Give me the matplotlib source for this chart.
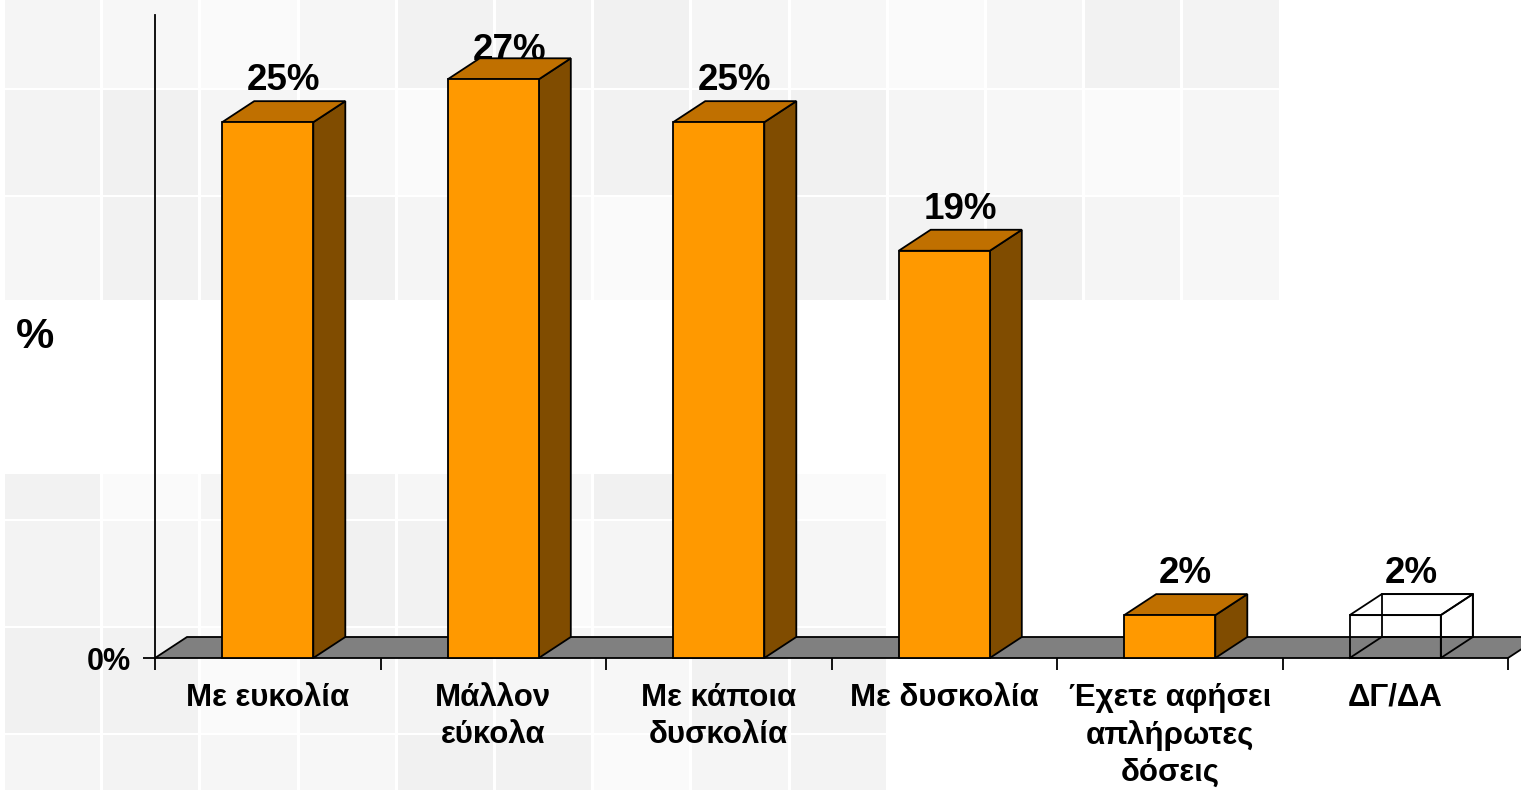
""" Greek survey chart: 3D-looking orange columns. """

import matplotlib
matplotlib.use("Agg")
import matplotlib.pyplot as plt
from matplotlib.patches import Polygon, Rectangle


categories = ["Με ευκολία", "Μάλλον\nεύκολα", "Με κάποια\nδυσκολία",
              "Με δυσκολία", "Έχετε αφήσει\nαπλήρωτες\nδόσεις", "ΔΓ/ΔΑ"]
values = [25, 27, 25, 19, 2, 2]
value_labels = ["25%", "27%", "25%", "19%", "2%", "2%"]
hollow = {"ΔΓ/ΔΑ"}

W, H = 1521, 790
FONT = "Liberation Sans"
FRONT = "#FF9900"
TOP = "#C07000"
SIDE = "#804C00"
FLOOR = "#808080"

fig = plt.figure(figsize=(W / 100, H / 100), dpi=100)
fig.patch.set_facecolor("white")

# faint tiled backdrop
bg = fig.add_axes([0, 0, 1, 1], zorder=0)
bg.set_xlim(0, W)
bg.set_ylim(H, 0)
bg.axis("off")
shades = ["#f5f5f5", "#f2f2f2", "#f7f7f7", "#f3f3f3", "#fafafa", "#f1f1f1", "#f6f6f6"]
col_w = 98.2
top_rows = [(0, 88), (90, 195), (197, 300)]
bot_rows = [(474, 519), (521, 626), (628, 733), (735, 790)]
for r, (y0, y1) in enumerate(top_rows):
    for c in range(13):
        x0 = 5 + c * col_w
        bg.add_patch(Rectangle((x0, y0), col_w - 3, y1 - y0, lw=0,
                               color=shades[(r * 3 + c * 2) % len(shades)]))
for r, (y0, y1) in enumerate(bot_rows):
    for c in range(9):
        x0 = 5 + c * col_w
        bg.add_patch(Rectangle((x0, y0), col_w - 3, y1 - y0, lw=0,
                               color=shades[(r * 2 + c * 3 + 1) % len(shades)]))

# main axes: x in category slots, y in percent
ax = fig.add_axes([155 / W, (H - 658) / H, (1508 - 155) / W, (658 - 15) / H], zorder=1)
ax.patch.set_alpha(0)
n = len(categories)
ax.set_xlim(0, n)
ax.set_ylim(0, 30)
for s in ["top", "right", "bottom"]:
    ax.spines[s].set_visible(False)
ax.spines["left"].set_linewidth(1.3)

# depth offsets (in data units)
DX = 32 / 225.5
DY = 21 / 21.43
BW = 0.404

floor = Polygon([(0, 0), (n, 0), (n + DX, DY), (DX, DY)], closed=True,
                facecolor=FLOOR, edgecolor="black", lw=1.3, clip_on=False, zorder=2)
ax.add_patch(floor)

for i, (cat, v, lab) in enumerate(zip(categories, values, value_labels)):
    x0 = i + 0.5 - BW / 2
    x1 = i + 0.5 + BW / 2
    front = [(x0, 0), (x1, 0), (x1, v), (x0, v)]
    top = [(x0, v), (x1, v), (x1 + DX, v + DY), (x0 + DX, v + DY)]
    side = [(x1, 0), (x1 + DX, DY), (x1 + DX, v + DY), (x1, v)]
    if cat in hollow:
        back = [(x0 + DX, DY), (x1 + DX, DY), (x1 + DX, v + DY), (x0 + DX, v + DY)]
        for poly in (back, front, top, side):
            ax.add_patch(Polygon(poly, closed=True, fill=False, edgecolor="black",
                                 lw=1.3, clip_on=False, zorder=4))
        ax.plot([x0, x0 + DX], [0, DY], color="black", lw=1.3, clip_on=False, zorder=4)
    else:
        for poly, col in ((side, SIDE), (top, TOP), (front, FRONT)):
            ax.add_patch(Polygon(poly, closed=True, facecolor=col, edgecolor="black",
                                 lw=1.3, joinstyle="miter", clip_on=False, zorder=4))
    ax.text(i + 0.5 + DX / 2, min(v + DY + 0.5, 27.9), lab, ha="center", va="baseline",
            fontsize=26.5, fontweight="bold", family=FONT, zorder=3, clip_on=False)

# axis ticks and labels
ax.set_yticks([0])
ax.set_yticklabels(["0%"], fontsize=22, fontweight="bold", family=FONT)
ax.tick_params(axis="y", direction="out", length=8.6, width=1.3, pad=9)
ax.set_xticks(range(n + 1))
ax.set_xticklabels([])
ax.tick_params(axis="x", which="major", direction="out", length=8.6, width=1.3)
ax.set_xticks([i + 0.5 for i in range(n)], minor=True)
ax.set_xticklabels(categories, minor=True, fontsize=22.5, fontweight="bold",
                   family=FONT, linespacing=1.3)
ax.tick_params(axis="x", which="minor", length=0, pad=18)

fig.text(35 / W, 1 - 337 / H, "%", ha="center", va="center", fontsize=31,
         fontweight="bold", family=FONT)

fig.savefig("out.png", dpi=100)
